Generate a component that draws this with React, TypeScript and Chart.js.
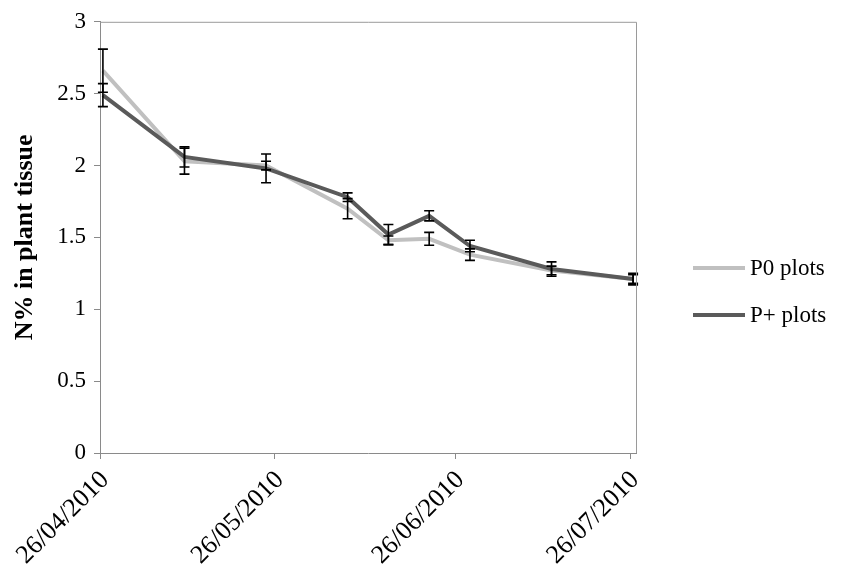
import React, { useEffect, useRef } from "react";
import { Chart, registerables } from "chart.js";

Chart.register(...registerables);

// Sampling dates (dd/mm/yyyy)
const sampleDates = [
  "26/04/2010",
  "10/05/2010",
  "24/05/2010",
  "07/06/2010",
  "14/06/2010",
  "21/06/2010",
  "28/06/2010",
  "12/07/2010",
  "26/07/2010",
];

// Mean N% and standard error for each treatment
const p0Mean = [2.66, 2.03, 2.0, 1.7, 1.48, 1.49, 1.38, 1.27, 1.21];
const p0Err = [0.15, 0.09, 0.03, 0.07, 0.03, 0.045, 0.04, 0.03, 0.03];
const pPlusMean = [2.49, 2.06, 1.98, 1.78, 1.52, 1.65, 1.44, 1.28, 1.21];
const pPlusErr = [0.08, 0.07, 0.1, 0.03, 0.07, 0.035, 0.04, 0.05, 0.04];

const seriesLabels = ["P0 plots", "P+ plots"];
const xTickLabels = ["26/04/2010", "26/05/2010", "26/06/2010", "26/07/2010"];

const FONT = '"Liberation Serif", "Times New Roman", serif';
const P0_COLOR = "#c0c0c0";
const PPLUS_COLOR = "#5a5a5a";

const DAY = 86400000;
const toUtc = (s: string) => {
  const [d, m, y] = s.split("/").map(Number);
  return Date.UTC(y, m - 1, d);
};
const origin = toUtc(sampleDates[0]);
const dayOf = (s: string) => Math.round((toUtc(s) - origin) / DAY);
// each date occupies a one-day slot; points sit in the middle of their slot
const sampleX = sampleDates.map((s) => dayOf(s) + 0.5);
const tickDays = xTickLabels.map(dayOf);
const xMax = dayOf(sampleDates[sampleDates.length - 1]) + 1;

const errorBars = {
  id: "errorBars",
  afterDatasetsDraw(chart: any) {
    const { ctx, scales } = chart;
    ctx.save();
    ctx.strokeStyle = "#000";
    ctx.lineWidth = 1.6;
    chart.data.datasets.forEach((ds: any) => {
      ds.data.forEach((pt: any, i: number) => {
        const e = ds.errors[i];
        const x = scales.x.getPixelForValue(pt.x);
        const yTop = scales.y.getPixelForValue(pt.y + e);
        const yBot = scales.y.getPixelForValue(pt.y - e);
        const cap = 5;
        ctx.beginPath();
        ctx.moveTo(x, yTop);
        ctx.lineTo(x, yBot);
        ctx.moveTo(x - cap, yTop);
        ctx.lineTo(x + cap, yTop);
        ctx.moveTo(x - cap, yBot);
        ctx.lineTo(x + cap, yBot);
        ctx.stroke();
      });
    });
    ctx.restore();
  },
};

const frameAndLegend = {
  id: "frameAndLegend",
  afterDraw(chart: any) {
    const { ctx, chartArea } = chart;
    ctx.save();
    // plot frame: top and right edges
    ctx.strokeStyle = "#9a9a9a";
    ctx.lineWidth = 1;
    ctx.beginPath();
    ctx.moveTo(chartArea.left, chartArea.top + 0.5);
    ctx.lineTo(chartArea.right + 0.5, chartArea.top + 0.5);
    ctx.lineTo(chartArea.right + 0.5, chartArea.bottom);
    ctx.stroke();

    // legend on the right
    const items = [
      { label: seriesLabels[0], color: P0_COLOR },
      { label: seriesLabels[1], color: PPLUS_COLOR },
    ];
    const x0 = chartArea.right + 57;
    const lineLen = 52;
    const yStart = 268;
    const gap = 47;
    ctx.font = `23px ${FONT}`;
    ctx.textBaseline = "middle";
    ctx.fillStyle = "#000";
    items.forEach((it, i) => {
      const y = yStart + i * gap;
      ctx.strokeStyle = it.color;
      ctx.lineWidth = 4;
      ctx.beginPath();
      ctx.moveTo(x0, y);
      ctx.lineTo(x0 + lineLen, y);
      ctx.stroke();
      ctx.fillText(it.label, x0 + lineLen + 5, y + 1);
    });
    ctx.restore();
  },
};

export default function App() {
  const ref = useRef<HTMLCanvasElement | null>(null);

  useEffect(() => {
    if (!ref.current) return;
    const chart = new Chart(ref.current, {
      type: "line",
      data: {
        datasets: [
          {
            label: seriesLabels[0],
            data: sampleX.map((x, i) => ({ x, y: p0Mean[i] })),
            errors: p0Err,
            borderColor: P0_COLOR,
            backgroundColor: P0_COLOR,
            borderWidth: 4,
            pointRadius: 0,
            tension: 0,
            order: 1,
          } as any,
          {
            label: seriesLabels[1],
            data: sampleX.map((x, i) => ({ x, y: pPlusMean[i] })),
            errors: pPlusErr,
            borderColor: PPLUS_COLOR,
            backgroundColor: PPLUS_COLOR,
            borderWidth: 4,
            pointRadius: 0,
            tension: 0,
            order: 0,
          } as any,
        ],
      },
      options: {
        responsive: false,
        animation: false,
        layout: { padding: { left: 0, top: 20, right: 205, bottom: 0 } },
        plugins: {
          legend: { display: false },
          tooltip: { enabled: false },
        },
        scales: {
          x: {
            type: "linear",
            min: 0,
            max: xMax,
            afterBuildTicks: (axis: any) => {
              axis.ticks = tickDays.map((v) => ({ value: v }));
            },
            afterFit: (axis: any) => {
              axis.height = 121;
            },
            ticks: {
              autoSkip: false,
              minRotation: 45,
              maxRotation: 45,
              padding: 6,
              labelOffset: 5,
              color: "#000",
              font: { family: FONT, size: 26 },
              callback: (v: any) => {
                const idx = tickDays.indexOf(Number(v));
                return idx >= 0 ? xTickLabels[idx] : "";
              },
            },
            grid: {
              display: true,
              drawOnChartArea: false,
              drawTicks: true,
              tickLength: 6,
              color: "#8a8a8a",
            },
            border: { display: true, color: "#8a8a8a", width: 1 },
          },
          y: {
            min: 0,
            max: 3,
            afterFit: (axis: any) => {
              axis.width = 100;
            },
            ticks: {
              stepSize: 0.5,
              padding: 8,
              color: "#000",
              font: { family: FONT, size: 23 },
              callback: (v: any) => String(Number(v)),
            },
            grid: {
              display: true,
              drawOnChartArea: false,
              drawTicks: true,
              tickLength: 6,
              color: "#8a8a8a",
            },
            border: { display: true, color: "#8a8a8a", width: 1 },
            title: {
              display: true,
              text: "N% in plant tissue",
              color: "#000",
              font: { family: FONT, size: 26, weight: "bold" },
              padding: { top: 10, bottom: 0 },
            },
          },
        },
      },
      plugins: [errorBars, frameAndLegend],
    });
    return () => chart.destroy();
  }, []);

  return (
    <div style={{ position: "fixed", left: 0, top: 0, width: 841, height: 574, background: "#fff" }}>
      <canvas ref={ref} width={841} height={574} />
    </div>
  );
}
